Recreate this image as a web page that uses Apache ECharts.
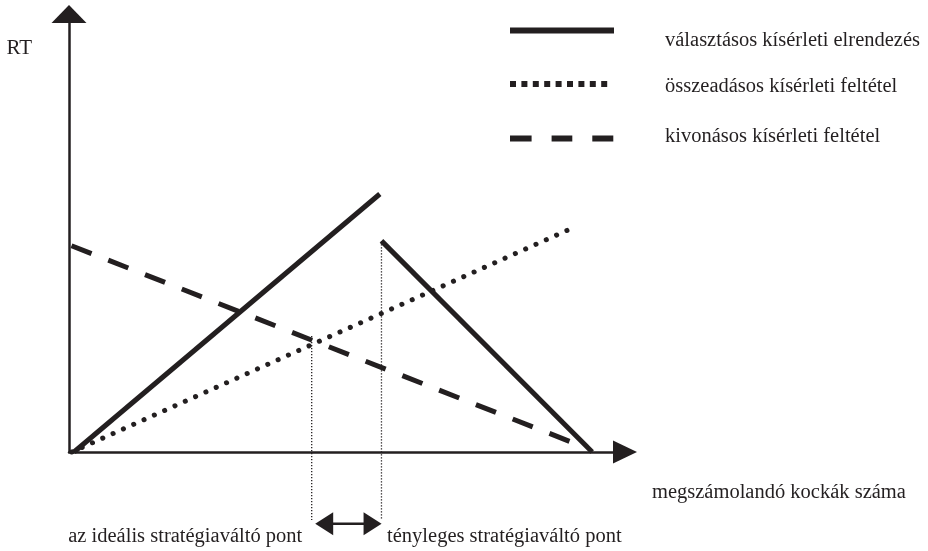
<!DOCTYPE html>
<html>
<head>
<meta charset="utf-8">
<script src="https://cdn.jsdelivr.net/npm/echarts@6/dist/echarts.min.js"></script>
<style>
html,body{margin:0;padding:0;background:#fff;}
#chart{width:928px;height:551px;}
</style>
</head>
<body>
<div id="chart"></div>
<script>
// ---- data (schematic units: x = number of cubes, y = RT; both 0..100) ----
const seriesNames = ['választásos kísérleti elrendezés', 'összeadásos kísérleti feltétel', 'kivonásos kísérleti feltétel'];
const axisNames = ['megszámolandó kockák száma', 'RT'];
const switchLabels = ['az ideális stratégiaváltó pont', 'tényleges stratégiaváltó pont'];

const choiceRise = [[0.9, 0], [55.9, 58.9]];
const choiceFall = [[56.2, 48.2], [94.1, 0]];
const additive = [[0.5, 0], [91.0, 51.4]];
const subtractive = [[0.45, 47.1], [91.9, 1.5]];
const idealSwitch = [[43.65, 26.5], [43.65, -15.5]];
const actualSwitch = [[56.2, 48.1], [56.2, -15.5]];
const switchGap = [[45.9, -16.4], [54.6, -16.4]];

// ---- styling ----
const INK = '#231f20';
const FONT = 'Liberation Serif';
const FS = 20.5;

function squaresPath(n, step, size) {
  let p = 'path://';
  for (let i = 0; i < n; i++) {
    const x = i * step;
    p += 'M' + x + ',0H' + (x + size) + 'V' + size + 'H' + x + 'Z';
  }
  return p;
}
const icons = [
  'path://M0,0H104V6H0Z',
  squaresPath(9, 11.4, 6),
  'path://M0,0H21.6V6H0Z M41.6,0H62.3V6H41.6Z M82.3,0H103.3V6H82.3Z'
];
const legendWidths = [104, 97.2, 103.3];
const legendTops = [10, 71, 126];
const legendLineHeights = [20, 5, 4];
const legendPadLeft = [46, 52.8, 46.7];
const legendFormat = [
  n => '\n' + n,
  n => '\n' + n,
  n => n + '\n'
];

const chart = echarts.init(document.getElementById('chart'), null, {renderer: 'canvas'});

const lineBase = {
  type: 'line', symbol: 'none', silent: true, clip: false, animation: false
};

const option = {
  backgroundColor: '#ffffff',
  animation: false,
  grid: {left: 69, right: 303, top: 14, bottom: 99, containLabel: false},
  legend: seriesNames.map((n, i) => ({
    data: [{name: n, icon: icons[i]}],
    left: 510, top: legendTops[i], padding: 0,
    itemWidth: legendWidths[i], itemHeight: 6,
    selectedMode: false,
    formatter: legendFormat[i],
    itemStyle: {color: INK, borderWidth: 0},
    textStyle: {fontFamily: FONT, fontSize: FS, color: INK, lineHeight: legendLineHeights[i], padding: [0, 0, 0, legendPadLeft[i]]}
  })),
  xAxis: {
    type: 'value', min: 0, max: 100,
    name: '\n' + axisNames[0], nameLocation: 'end', nameGap: 27,
    nameTextStyle: {fontFamily: FONT, fontSize: FS, color: INK, align: 'left', verticalAlign: 'middle', lineHeight: 82},
    axisLine: {show: true, onZero: false, symbol: ['none', 'triangle'], symbolSize: [23, 24], lineStyle: {color: INK, width: 2.5}},
    axisTick: {show: false}, axisLabel: {show: false}, splitLine: {show: false}
  },
  yAxis: {
    type: 'value', min: 0, max: 100,
    name: axisNames[1], nameLocation: 'end', nameGap: -34.7,
    nameTextStyle: {fontFamily: FONT, fontSize: 21, color: INK, align: 'right', verticalAlign: 'middle', padding: [0, 37, 0, 0]},
    axisLine: {show: true, onZero: false, symbol: ['none', 'triangle'], symbolSize: [35, 18], lineStyle: {color: INK, width: 2.5}},
    axisTick: {show: false}, axisLabel: {show: false}, splitLine: {show: false}
  },
  series: [
    Object.assign({}, lineBase, {name: seriesNames[0], data: choiceRise, itemStyle: {color: INK},
      lineStyle: {color: INK, width: 5, type: 'solid', cap: 'butt'}}),
    Object.assign({}, lineBase, {name: seriesNames[0], data: choiceFall, itemStyle: {color: INK},
      lineStyle: {color: INK, width: 5, type: 'solid', cap: 'butt'}}),
    Object.assign({}, lineBase, {name: seriesNames[1], data: additive, itemStyle: {color: INK},
      lineStyle: {color: INK, width: 5, type: [0.1, 11.2], cap: 'round'}}),
    Object.assign({}, lineBase, {name: seriesNames[2], data: subtractive, itemStyle: {color: INK},
      lineStyle: {color: INK, width: 5, type: [21.5, 18], cap: 'butt'}}),
    Object.assign({}, lineBase, {name: 'ideal', data: idealSwitch,
      lineStyle: {color: INK, width: 1.3, type: [1.3, 1.7]}}),
    Object.assign({}, lineBase, {name: 'actual', data: actualSwitch,
      lineStyle: {color: INK, width: 1.3, type: [1.3, 1.7]}}),
    Object.assign({}, lineBase, {
      name: 'gap', showSymbol: true, symbol: 'triangle', symbolSize: [23, 18],
      symbolRotate: (v, p) => p.dataIndex === 0 ? 90 : -90,
      itemStyle: {color: INK, borderWidth: 0},
      lineStyle: {color: INK, width: 2.5},
      data: switchGap.map((d, i) => ({
        value: d,
        label: {
          show: true, formatter: switchLabels[i],
          position: i === 0 ? 'left' : 'right', distance: i === 0 ? 13 : 5.5,
          offset: [0, 12.5],
          fontFamily: FONT, fontSize: FS, color: INK
        }
      }))
    })
  ]
};
chart.setOption(option);
</script>
</body>
</html>
